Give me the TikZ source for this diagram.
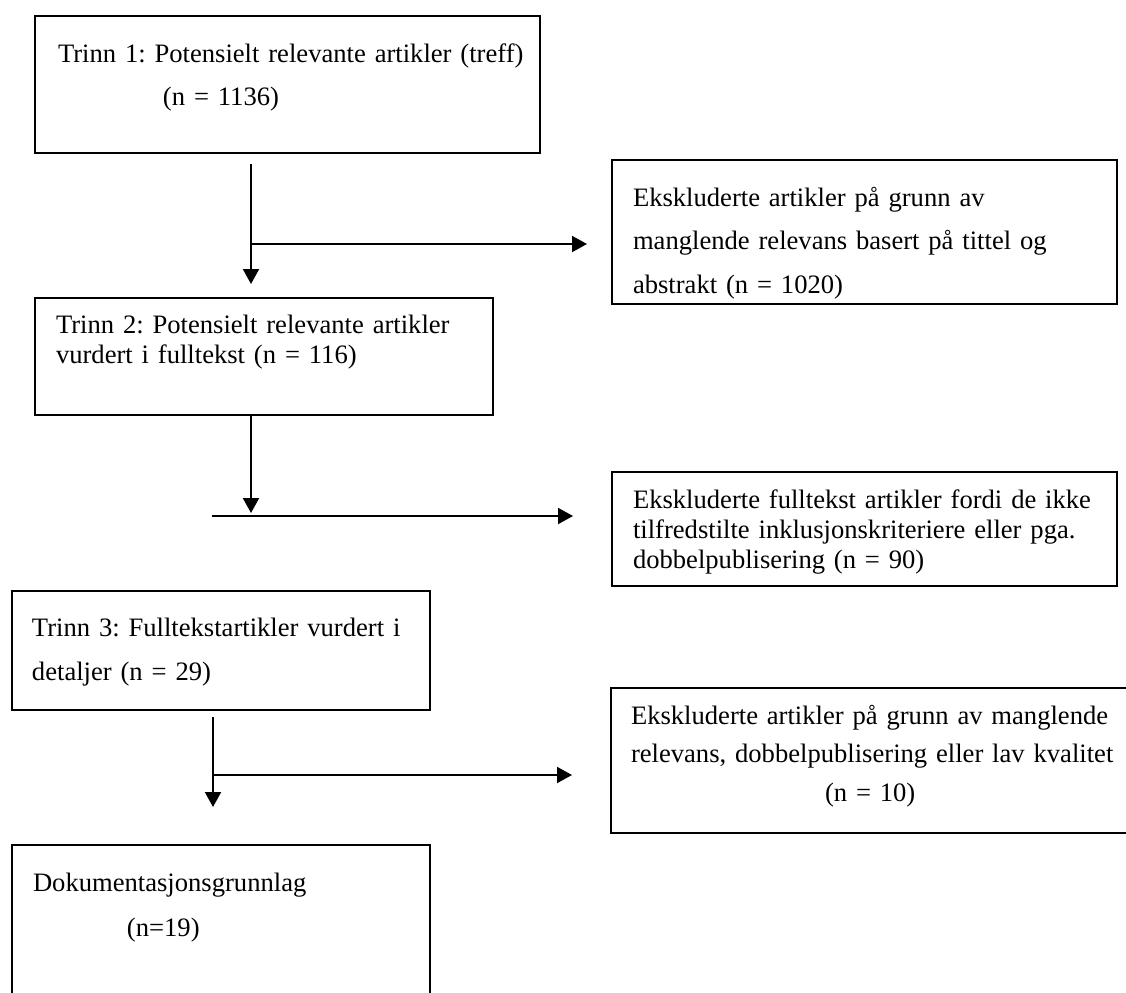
\documentclass[tikz,border=0pt]{standalone}
\usepackage{fontspec}
\setmainfont{Liberation Serif}
\usetikzlibrary{arrows.meta}

\tikzset{
  boks/.style={draw, line width=1pt, anchor=north west, inner ysep=0pt, align=left,
    execute at begin node={\setlength{\parindent}{0pt}\frenchspacing\hyphenpenalty=10000}},
  pil/.style={line width=1pt, -{Triangle[length=7.5pt,width=8pt]}},
}

\begin{document}
\begin{tikzpicture}[x=0.5pt,y=-0.5pt]
    \useasboundingbox (0,0) rectangle (1126,992);
    % Trinn 1
    \node[boks, inner xsep=11.5pt, text width=229.5pt, text height=23pt, text depth=45.5pt,
        font=\fontsize{13.3pt}{21.5pt}\selectfont] (trinn1) at (34,15)
        {\mbox{Trinn 1: Potensielt relevante artikler (treff)}\\ \hspace*{52.5pt}(n = 1136)};
    \node[boks, inner xsep=10.5pt, text width=231.5pt, text height=23pt, text depth=49pt,
        font=\fontsize{13.3pt}{21.75pt}\selectfont] (eks1) at (611,159)
        {Ekskluderte artikler på grunn av\\ manglende relevans basert på tittel og\\ abstrakt (n = 1020)};
    % Trinn 2
    \node[boks, inner xsep=10.5pt, text width=208pt, text height=17.5pt, text depth=41pt,
        font=\fontsize{13.3pt}{15pt}\selectfont] (trinn2) at (34,297)
        {Trinn 2: Potensielt relevante artikler\\ vurdert i fulltekst (n = 116)};
    \node[boks, inner xsep=10.5pt, text width=231.5pt, text height=18pt, text depth=39pt,
        font=\fontsize{13.3pt}{15pt}\selectfont] (eks2) at (611,471)
        {Ekskluderte fulltekst artikler fordi de ikke\\ tilfredstilte inklusjonskriteriere eller pga.\\ dobbelpublisering (n = 90)};
    % Trinn 3
    \node[boks, inner xsep=10pt, text width=189pt, text height=22.5pt, text depth=37pt,
        font=\fontsize{13.3pt}{22pt}\selectfont] (trinn3) at (11,590)
        {Trinn 3: Fulltekstartikler vurdert i\\ detaljer (n = 29)};
    \node[boks, inner xsep=10pt, text width=250pt, text height=18pt, text depth=54.5pt,
        font=\fontsize{13.3pt}{19.25pt}\selectfont] (eks3) at (610,687)
        {Ekskluderte artikler på grunn av manglende\\ relevans, dobbelpublisering eller lav kvalitet\\ \hspace*{97pt}(n = 10)};
    % Resultat
    \node[boks, inner xsep=10.5pt, text width=188pt, text height=23pt, text depth=57.5pt,
        font=\fontsize{13.3pt}{22.5pt}\selectfont] (grunnlag) at (11,844)
        {Dokumentasjonsgrunnlag\\ \hspace*{47pt}(n=19)};
    % Arrows, first step
    \coordinate (v1a) at (251,164);
    \coordinate (v1b) at (251,284);
    \coordinate (h1a) at (251,244);
    \coordinate (h1b) at (587,244);
    \draw[pil] (v1a) -- (v1b);
    \draw[pil] (h1a) -- (h1b);
    % Arrows, second step
    \coordinate (v2b) at (251,513);
    \coordinate (h2a) at (212,516);
    \coordinate (h2b) at (573,516);
    \draw[pil] (trinn2.south -| v2b) -- (v2b);
    \draw[pil] (h2a) -- (h2b);
    % Arrows, third step
    \coordinate (v3a) at (213,717);
    \coordinate (v3b) at (213,807);
    \coordinate (h3a) at (213,775);
    \coordinate (h3b) at (572,775);
    \draw[pil] (v3a) -- (v3b);
    \draw[pil] (h3a) -- (h3b);
\end{tikzpicture}
\end{document}
